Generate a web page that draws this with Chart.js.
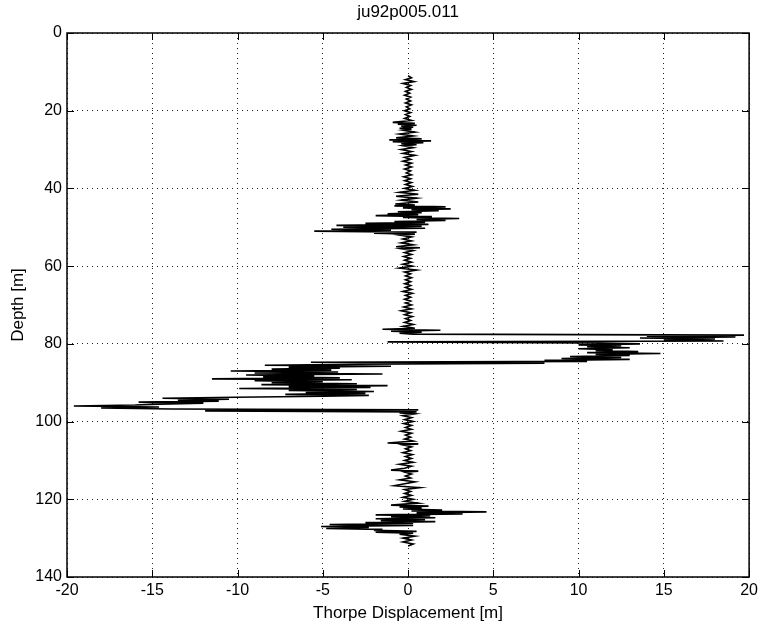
<!DOCTYPE html>
<html>
<head>
<meta charset="utf-8">
<script src="https://cdn.jsdelivr.net/npm/chart.js@4.4.1/dist/chart.umd.min.js"></script>
<style>
  html, body { margin: 0; padding: 0; background: #fff; }
  #wrap { width: 762px; height: 629px; }
</style>
</head>
<body>
<div id="wrap"><canvas id="profile"></canvas></div>
<script>
const chartTitle = "ju92p005.011";
const xTitle = "Thorpe Displacement [m]";
const yTitle = "Depth [m]";
const xTicks = [-20, -15, -10, -5, 0, 5, 10, 15, 20];
const yTicks = [0, 20, 40, 60, 80, 100, 120, 140];

// depth [m] of each sample
const depth = [
  11, 11.5, 12, 12.5, 13, 13.5, 14, 14.5, 15, 15.5, 16, 16.5, 17, 17.5, 18, 18.5, 19, 19.5, 20, 20.5, 21, 21.5, 22, 22.5,
  23, 23.25, 23.5, 23.75, 24, 24.25, 24.5, 24.75, 25, 25.5, 26, 26.5, 27, 27.25, 27.5, 27.75, 28, 28.25, 28.5, 28.75, 29,
  29.5, 30, 30.5, 31, 31.5, 32, 32.5, 33, 33.5, 34, 34.5, 35, 35.5, 36, 36.5, 37, 37.5, 38, 38.5, 39, 39.5, 40,
  40.5, 41, 41.5, 42, 42.5, 43, 43.5, 44, 44.25, 44.5, 44.75, 45, 45.25, 45.5, 45.75, 46, 46.25, 46.5, 46.75, 47,
  47.25, 47.5, 47.75, 48, 48.25, 48.5, 48.75, 49, 49.25, 49.5, 49.75, 50, 50.25, 50.5, 50.75, 51, 51.25, 51.5, 51.75, 52,
  52.5, 53, 53.5, 54, 54.5, 55, 55.25, 55.5, 56, 56.5, 57, 57.5, 58, 58.5, 59, 59.5, 60, 60.5, 61, 61.5, 62, 62.5, 63,
  63.5, 64, 64.5, 65, 65.5, 66, 66.5, 67, 67.5, 68, 68.5, 69, 69.5, 70, 70.5, 71, 71.5, 72, 72.5, 73, 73.5, 74, 74.5,
  75, 75.5, 76,
  76.25, 76.5, 76.75, 77, 77.25, 77.5, 77.75, 78, 78.25, 78.5, 78.75, 79, 79.25, 79.5, 79.75, 80, 80.25, 80.5, 80.75, 81,
  81.25, 81.5, 81.75, 82, 82.25, 82.5, 82.75, 83, 83.25, 83.5, 83.75, 84, 84.25, 84.5, 84.75, 85, 85.25, 85.5, 85.75, 86,
  86.25, 86.5, 86.75, 87, 87.25, 87.5, 87.75, 88, 88.25, 88.5, 88.75, 89, 89.25, 89.5, 89.75, 90, 90.25, 90.5, 90.75, 91,
  91.25, 91.5, 91.75, 92, 92.25, 92.5, 92.75, 93, 93.25, 93.5, 93.75, 94, 94.25, 94.5, 94.75, 95, 95.25, 95.5, 95.75, 96,
  96.25, 96.5, 96.75, 97, 97.25, 97.5,
  97.75, 98, 98.5, 99, 99.5, 100, 100.5, 101, 101.5, 102, 102.5, 103, 103.5, 104, 104.5, 105, 105.5, 105.75,
  106, 106.5, 107, 107.5, 108, 108.5, 109, 109.5, 110, 110.5, 111, 111.5, 112, 112.5, 112.75,
  113, 113.5, 114, 114.5, 115, 115.5, 116, 116.5, 117, 117.5, 118, 118.5, 119, 119.5, 120, 120.5, 121, 121.5,
  121.75, 122, 122.25, 122.5, 122.75, 123, 123.25, 123.5, 123.75, 124, 124.25, 124.5, 124.75, 125, 125.25, 125.5,
  125.75, 126, 126.25, 126.5, 126.75, 127, 127.25, 127.5, 127.75, 128, 128.25, 128.5, 128.75, 129,
  129.5, 130, 130.5, 131, 131.5, 132
];

// Thorpe displacement [m] at each depth above
const displacement = [
  0, 0.2, -0.15, 0.35, -0.3, 0.15, -0.1, 0.2, -0.15, 0.1, -0.2, 0.15, -0.1, 0.15, -0.15, 0.2, -0.1, 0.1, -0.2, 0.15, -0.15, 0.1, -0.2, 0.2,
  -0.9, 0.4, -0.6, 0.5, -0.4, 0.3, -0.5, 0.2, -0.3, 0.4, -0.5, 0.3, -0.7, 0.8, -1.1, 1.35, -0.9, 0.9, -0.4, 0.5, -0.3,
  0.3, -0.4, 0.2, -0.3, 0.4, -0.2, 0.15, -0.3, 0.2, -0.15, 0.2, -0.2, 0.15, -0.1, 0.2, -0.25, 0.15, -0.2, 0.2, -0.15, 0.25, -0.2,
  0.4, -0.5, 0.6, -0.7, 0.5, -0.4, 0.6, -0.75, 0.4, -0.8, 2.2, -0.3, 2.5, 0.2, 1.8, -0.6, 0.8, -1.2, 0.6, -1.9,
  1.4, -0.3, 3.0, 0.5, 2.2, -0.8, 1.0, -2.5, 1.2, -4.2, 0.8, -3.8, 1.0, -4.5, -1.0, -5.5, 0.5, -2.0, 0.4, -0.5,
  0.2, -0.3, 0.2, -0.4, 0.3, -0.7, 0.7, -0.4, 0.3, -0.2, 0.2, -0.25, 0.15, -0.2, 0.2, -0.3, 0.25, -0.5, 0.5, -0.2, 0.15, -0.15, 0.2,
  -0.15, 0.15, -0.2, 0.15, -0.15, 0.2, -0.3, 0.25, -0.15, 0.15, -0.2, 0.15, -0.15, 0.2, -0.25, 0.2, -0.4, 0.15, -0.2, 0.25, -0.15, 0.15, -0.2,
  0.3, -0.3, 0.4,
  -1.5, 1.9, -1.0, 0.8, -0.5, 0.3, 19.7, 14.0, 19.2, 13.6, 18.0, 15.0, 18.5, -1.2, 10.5, 13.6, 10.0, 12.5, 10.5, 13.0,
  10.0, 12.0, 11.0, 13.5, 10.5, 14.8, 11.0, 13.0, 9.5, 12.5, 9.0, 13.0, 8.0, 10.5, -5.7, 8.0, -3.0, -8.4, -1.0, -7.0,
  -4.0, -8.0, -4.5, -10.4, -4.1, -9.0, -1.5, -9.5, -5.5, -8.5, -4.0, -11.5, -3.3, -9.0, -5.0, -8.0, -3.0, -8.6, -1.2, -7.0,
  -2.2, -9.9, -3.0, -7.0, -2.0, -6.0, -2.5, -7.2, -2.3, -5.0, -10.1, -14.4, -10.5, -13.5, -11.1, -15.8, -12.0, -14.6, -16.0, -19.6,
  -14.6, -18.0, -13.9, 0.6, -11.9, 0.5,
  -0.5, 0.4, -0.3, 0.2, -0.2, 0.3, -0.25, 0.2, -0.15, 0.2, -0.4, 0.2, -0.15, 0.15, -0.2, 0.3, -1.2, 0.6,
  -0.3, 0.2, -0.15, 0.15, -0.3, 0.25, -0.15, 0.2, -0.2, 0.3, -0.5, 0.2, -0.2, -1.0, 0.6,
  -0.2, 0.2, -0.15, 0.15, -0.5, 0.4, -0.2, -0.8, 0.7, -0.2, 0.15, -0.2, 0.2, -0.3, 0.3, -0.2, 0.6, -1.0,
  1.2, -0.5, 0.8, -0.3, 2.0, 0.2, 4.6, 0.5, 3.2, -1.9, 1.3, -1.0, 1.6, -1.9, 1.0, -1.6,
  1.6, -2.5, 0.3, -4.6, 0.3, -5.1, -2.3, -4.8, -1.5, -2.0, 0.5, -1.9, 0.3, -0.5,
  0.4, -0.3, 0.2, -0.3, 0.3, 0
];

const fontFamily = "'Liberation Sans', Arial, Helvetica, sans-serif";
Chart.defaults.font.family = fontFamily;
Chart.defaults.color = "#000";

// box round the plot with MATLAB-style inward ticks on all four sides
const framePlugin = {
  id: "frame",
  afterDraw(chart) {
    const ctx = chart.ctx;
    const a = chart.chartArea;
    const sx = chart.scales.x;
    const sy = chart.scales.y;
    ctx.save();
    ctx.strokeStyle = "#000";
    ctx.lineWidth = 1;
    ctx.beginPath();
    xTicks.forEach(function (v) {
      const px = Math.round(sx.getPixelForValue(v)) + 0.5;
      ctx.moveTo(px, a.top);
      ctx.lineTo(px, a.top + 7);
      ctx.moveTo(px, a.bottom);
      ctx.lineTo(px, a.bottom - 7);
    });
    yTicks.forEach(function (v) {
      const py = Math.round(sy.getPixelForValue(v)) + 0.5;
      ctx.moveTo(a.left, py);
      ctx.lineTo(a.left + 7, py);
      ctx.moveTo(a.right, py);
      ctx.lineTo(a.right - 7, py);
    });
    ctx.stroke();
    ctx.lineWidth = 1.5;
    ctx.strokeRect(a.left, a.top, a.right - a.left, a.bottom - a.top);
    ctx.restore();
  }
};

const points = depth.map(function (d, i) {
  return { x: displacement[i], y: d };
});

const ctx = document.getElementById("profile").getContext("2d");

const profileChart = new Chart(ctx, {
  type: "scatter",
  data: {
    datasets: [
      {
        label: "Thorpe displacement",
        data: points,
        showLine: true,
        borderColor: "#000",
        backgroundColor: "#000",
        borderWidth: 1.6,
        pointRadius: 0,
        tension: 0,
        fill: false,
      },
    ],
  },
  options: {
    responsive: true,
    maintainAspectRatio: false,
    animation: false,
    layout: { padding: { left: 0, right: 9, top: 0, bottom: 0 } },
    plugins: {
      legend: { display: false },
      tooltip: { enabled: false },
    },
    scales: {
      x: {
        type: "linear",
        position: "bottom",
        min: -20,
        max: 20,
        afterBuildTicks: function (scale) {
          scale.ticks = xTicks.map(function (v) { return { value: v }; });
        },
        afterFit: function (scale) { scale.height = 52; },
        ticks: { font: { size: 16 }, padding: 4, maxRotation: 0, autoSkip: false },
        grid: { color: "#222", lineWidth: 1, drawTicks: false },
        border: { display: false, dash: [1, 4] },
        title: {
          display: true,
          text: xTitle,
          font: { size: 17 },
          padding: { top: 0, bottom: 5 },
        },
      },
      x2: {
        type: "linear",
        axis: "x",
        position: "top",
        min: -20,
        max: 20,
        afterFit: function (scale) { scale.height = 33; },
        ticks: { display: false },
        grid: { display: false, drawTicks: false },
        border: { display: false },
        title: {
          display: true,
          text: chartTitle,
          font: { size: 17 },
          padding: { top: 2, bottom: 0 },
        },
      },
      y: {
        type: "linear",
        position: "left",
        reverse: true,
        min: 0,
        max: 140,
        afterBuildTicks: function (scale) {
          scale.ticks = yTicks.map(function (v) { return { value: v }; });
        },
        afterFit: function (scale) { scale.width = 67; },
        ticks: { font: { size: 16 }, padding: 5, autoSkip: false },
        grid: { color: "#222", lineWidth: 1, drawTicks: false },
        border: { display: false, dash: [1, 4] },
        title: {
          display: true,
          text: yTitle,
          font: { size: 17 },
          padding: { top: 8, bottom: 0 },
        },
      },
    },
  },
  plugins: [framePlugin],
});
</script>
</body>
</html>
